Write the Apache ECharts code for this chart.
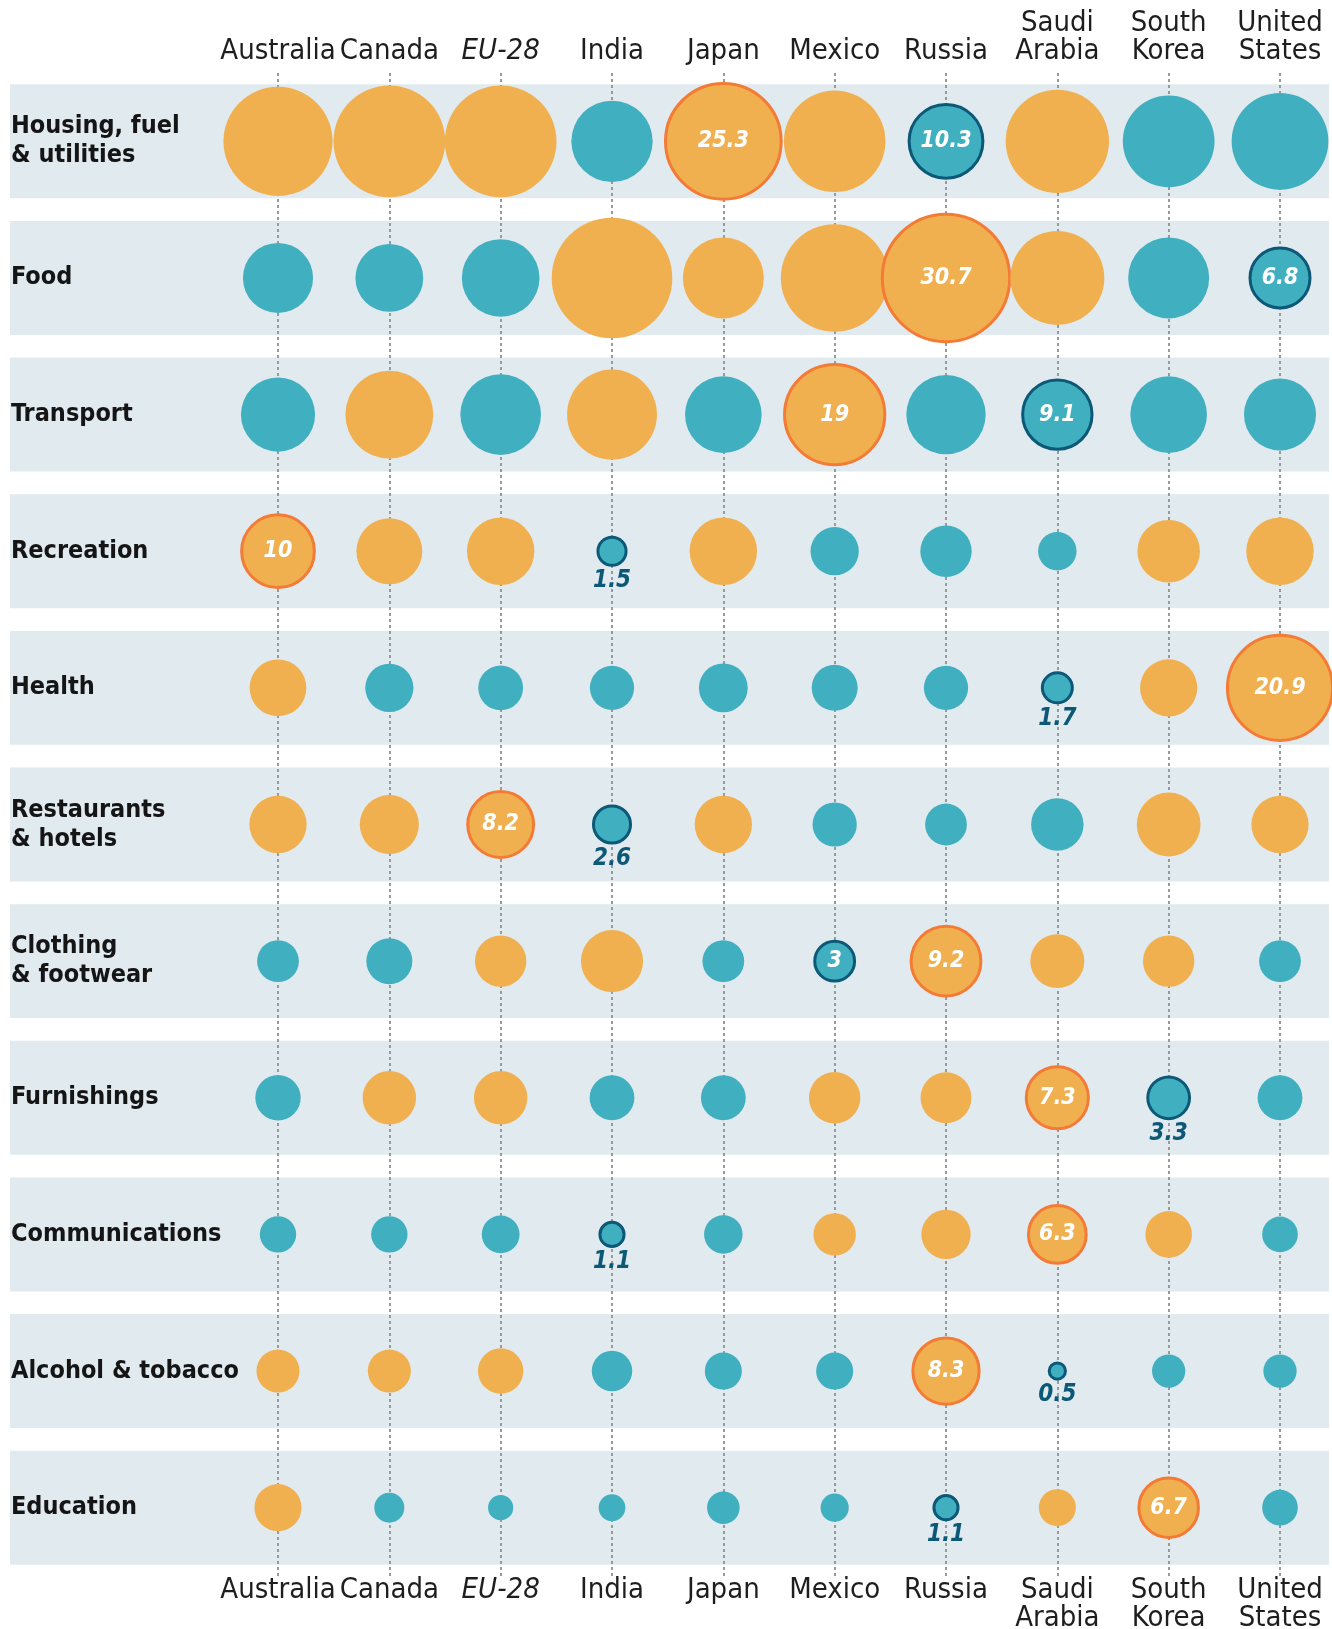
<!DOCTYPE html>
<html><head><meta charset="utf-8">
<script src="https://cdn.jsdelivr.net/npm/echarts@6/dist/echarts.min.js"></script>
<style>html,body{margin:0;padding:0;background:#fff}#c{width:1332px;height:1629px}</style>
</head><body><div id="c"></div>
<script>
const countries = ['Australia','Canada','EU-28','India','Japan','Mexico','Russia','Saudi\nArabia','South\nKorea','United\nStates'];
const categories = ['Housing, fuel\n& utilities','Food','Transport','Recreation','Health','Restaurants\n& hotels','Clothing\n& footwear','Furnishings','Communications','Alcohol & tobacco','Education'];

// share of household spending, %
const housing      = [22.5, 23.6, 23.6, 12.5, 25.3, 19.5, 10.3, 20.2, 15.9, 17.7];
const food         = [9.3, 8.7, 11.4, 27.5, 12.4, 21.9, 30.7, 16.7, 12.4, 6.8];
const transport    = [10.4, 14.6, 12.3, 15.3, 11.1, 19, 11.9, 9.1, 11.1, 9.8];
const recreation   = [10, 8.2, 8.6, 1.5, 8.6, 4.4, 5.0, 2.8, 7.4, 8.6];
const health       = [6.1, 4.4, 3.8, 3.7, 4.5, 4.0, 3.7, 1.7, 6.2, 20.9];
const restaurants  = [6.2, 6.6, 8.2, 2.6, 6.2, 3.7, 3.3, 5.2, 7.7, 6.2];
const clothing     = [3.3, 4.0, 5.0, 7.3, 3.3, 3, 9.2, 5.5, 5.0, 3.3];
const furnishings  = [3.9, 5.4, 5.4, 3.8, 3.8, 5.0, 4.9, 7.3, 3.3, 3.8];
const communications = [2.5, 2.5, 2.7, 1.1, 2.8, 3.4, 4.6, 6.3, 4.1, 2.4];
const alcohol      = [3.5, 3.5, 3.9, 3.1, 2.6, 2.6, 8.3, 0.5, 2.1, 2.1];
const education    = [4.2, 1.7, 1.2, 1.35, 2.0, 1.5, 1.1, 2.6, 6.7, 2.4];
const rows = [housing, food, transport, recreation, health, restaurants, clothing, furnishings, communications, alcohol, education];

// O = orange (higher), T = teal (lower)
const colourCodes = [
  'OOOTOOTOTT','TTTOOOOOTT','TOTOTOTTTT','OOOTOTTTOO','OTTTTTTTOO',
  'OOOTOTTTOO','TTOOTTOOOT','TOOTTOOOTT','TTTTTOOOOT','OOOTTTOTTT','OTTTTTTOOT'
];
// whether the lowest value's label sits below its bubble
const minLabelBelow = [false,false,false,true,true,true,false,true,true,true,true];

const ORANGE = '#F0B050', TEAL = '#40AFC0', HI = '#F47B36', LO = '#0C5877';
const NUMFONT = "'DejaVu Sans Condensed', 'DejaVu Sans', sans-serif";
const TXTFONT = "'DejaVu Sans Condensed', 'DejaVu Sans', sans-serif";

const data = [];
rows.forEach((vals, r) => {
  const mx = Math.max(...vals), mn = Math.min(...vals);
  vals.forEach((v, c) => {
    const item = {
      value: [c, r, v],
      itemStyle: { color: colourCodes[r][c] === 'O' ? ORANGE : TEAL, borderWidth: 0, opacity: 1 }
    };
    if (v === mx) {
      item.itemStyle.borderColor = HI; item.itemStyle.borderWidth = 3;
      item.label = { show: true, position: 'inside', formatter: String(v), color: '#fff',
        fontStyle: 'italic', fontWeight: 'bold', fontFamily: NUMFONT, fontSize: 23 };
    } else if (v === mn) {
      item.itemStyle.borderColor = LO; item.itemStyle.borderWidth = 3;
      if (minLabelBelow[r]) {
        item.label = { show: true, position: 'bottom', distance: 2, formatter: String(v), color: LO,
          fontStyle: 'italic', fontWeight: 'bold', fontFamily: NUMFONT, fontSize: 24, lineHeight: 24 };
      } else {
        item.label = { show: true, position: 'inside', formatter: String(v), color: '#fff',
          fontStyle: 'italic', fontWeight: 'bold', fontFamily: NUMFONT, fontSize: 23 };
      }
    }
    data.push(item);
  });
});

const colLabel = {
  interval: 0, fontFamily: TXTFONT, fontSize: 29, lineHeight: 28, color: '#1e1e1e',
  formatter: v => v === 'EU-28' ? '{i|EU-28}' : v,
  rich: { i: { fontStyle: 'italic', fontFamily: TXTFONT, fontSize: 29, lineHeight: 28, color: '#1e1e1e' } }
};

const chart = echarts.init(document.getElementById('c'));
chart.setOption({
  animation: false,
  backgroundColor: '#fff',
  grid: [
    { left: 278, right: 52, top: 73, bottom: 53, containLabel: false, outerBoundsMode: 'none' },
    { left: 10, right: 3, top: 73, bottom: 53, containLabel: false, outerBoundsMode: 'none' }
  ],
  xAxis: [
    { type: 'category', data: countries, gridIndex: 0, position: 'top', boundaryGap: false, z: 2,
      axisLine: { show: false }, axisTick: { show: false },
      axisLabel: Object.assign({ margin: 8 }, colLabel),
      splitLine: { show: true, lineStyle: { color: '#999', width: 2, type: [3, 3] } } },
    { type: 'category', data: countries, gridIndex: 0, position: 'bottom', boundaryGap: false,
      axisLine: { show: false }, axisTick: { show: false },
      axisLabel: Object.assign({ margin: 0 }, colLabel), splitLine: { show: false } },
    { type: 'value', gridIndex: 1, min: 0, max: 1, show: false }
  ],
  yAxis: [
    { type: 'category', data: categories, gridIndex: 0, inverse: true, z: 2,
      axisLine: { show: false }, axisTick: { show: false }, splitLine: { show: false },
      axisLabel: { align: 'left', margin: 267, fontFamily: TXTFONT, fontWeight: 'bold', fontSize: 25,
        lineHeight: 29, color: '#151515' } },
    { type: 'category', data: categories, gridIndex: 1, inverse: true, show: false }
  ],
  series: [
    { type: 'bar', xAxisIndex: 2, yAxisIndex: 1, data: categories.map(() => 1), barWidth: '83.4%',
      itemStyle: { color: '#E1EAEF' }, silent: true, z: 1 },
    { type: 'scatter', xAxisIndex: 0, yAxisIndex: 0, data: data, z: 3,
      symbolSize: val => 23 * Math.sqrt(val[2]) }
  ]
});
</script>
</body></html>
